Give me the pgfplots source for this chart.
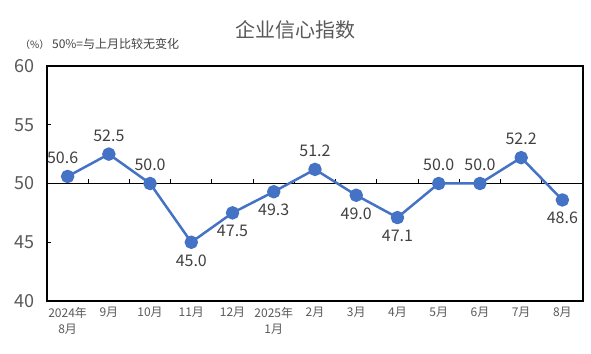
\documentclass[border=0pt]{standalone}
\usepackage{pgfplots}
\pgfplotsset{compat=1.18}
\usepackage{fontspec}
\setmainfont{Noto Sans CJK SC}
\definecolor{lineblue}{HTML}{4472C4}
\definecolor{txtgray}{HTML}{595959}
\definecolor{lblgray}{HTML}{404040}
\pgfplotsset{/pgf/number format/assume math mode=true}
\begin{document}
\begin{tikzpicture}
\begin{axis}[
  at={(47bp,53bp)}, anchor=south west,
  width=536bp, height=235bp, scale only axis,
  xmin=-0.5, xmax=12.5, ymin=40, ymax=60,
  axis line style={line width=1.8bp, black},
  ytick={40,45,50,55,60},
  ytick pos=left, tick align=inside,
  major tick length=4bp,
  ytick style={line width=1bp, black},
  yticklabel style={font=\fontsize{18bp}{20bp}\selectfont, text=txtgray, inner sep=0pt, anchor=east, xshift=-12bp},
  xtick={0,...,12},
  xtick style={draw=none},
  xticklabels={{2024年\\8月},9月,10月,11月,12月,{2025年\\1月},2月,3月,4月,5月,6月,7月,8月},
  xticklabel style={font=\fontsize{12bp}{16bp}\selectfont, text=txtgray, align=center, anchor=north, inner sep=0pt, yshift=-6bp},
  clip=false,
]
\draw[line width=1.8bp, black] (axis cs:-0.5,50) -- (axis cs:12.5,50);
\pgfplotsinvokeforeach{0,...,11}{\draw[line width=1bp, black] (axis cs:#1.5,50) -- ([yshift=4bp]axis cs:#1.5,50);}
\addplot[color=lineblue, line width=2.5bp, line join=round, mark=*, mark size=5.5bp, mark options={fill=lineblue, draw=none}]
  coordinates {(0,50.6)(1,52.5)(2,50.0)(3,45.0)(4,47.5)(5,49.3)(6,51.2)(7,49.0)(8,47.1)(9,50.0)(10,50.0)(11,52.2)(12,48.6)};
% labels above
\addplot[draw=none, mark=none, nodes near coords={\pgfmathprintnumber[fixed,fixed zerofill,precision=1]{\pgfplotspointmeta}},
  every node near coord/.style={anchor=base, inner sep=0pt, yshift=13bp, font=\fontsize{16bp}{18bp}\selectfont, text=lblgray}]
  coordinates {(1,52.5)(2,50.0)(6,51.2)(9,50.0)(10,50.0)(11,52.2)};
\addplot[draw=none, mark=none, nodes near coords={\pgfmathprintnumber[fixed,fixed zerofill,precision=1]{\pgfplotspointmeta}},
  every node near coord/.style={anchor=base, inner sep=0pt, yshift=13bp, xshift=-5bp, font=\fontsize{16bp}{18bp}\selectfont, text=lblgray}]
  coordinates {(0,50.6)};
% labels below
\addplot[draw=none, mark=none, nodes near coords={\pgfmathprintnumber[fixed,fixed zerofill,precision=1]{\pgfplotspointmeta}},
  every node near coord/.style={anchor=base, inner sep=0pt, yshift=-24bp, font=\fontsize{16bp}{18bp}\selectfont, text=lblgray}]
  coordinates {(3,45.0)(4,47.5)(5,49.3)(7,49.0)(8,47.1)(12,48.6)};
\end{axis}
\node[font=\fontsize{20bp}{22bp}\selectfont, text=txtgray, inner sep=0pt] at (295bp,324bp) {企业信心指数};
\node[font=\fontsize{12bp}{14bp}\selectfont, text=lblgray, inner sep=0pt, anchor=west] at (20bp,310bp) {{\fontsize{10bp}{12bp}\selectfont （\%）}\ 50\%=与上月比较无变化};
\pgfresetboundingbox
\path[use as bounding box] (0bp,0bp) rectangle (591bp,354bp);
\end{tikzpicture}
\end{document}
